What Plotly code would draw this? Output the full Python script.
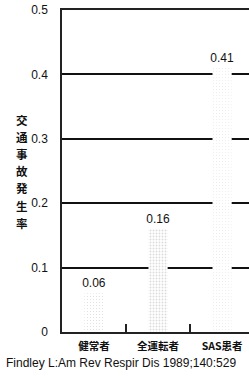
import plotly.graph_objects as go

categories = ["健常者", "全運転者", "SAS患者"]
values = [0.06, 0.16, 0.41]
value_labels = ["0.06", "0.16", "0.41"]
tick_vals = [0, 0.1, 0.2, 0.3, 0.4, 0.5]
tick_text = ["0", "0.1", "0.2", "0.3", "0.4", "0.5"]
y_title = "交通事故発生率"
source = "Findley L:Am Rev Respir Dis 1989;140:529"

NUM_FONT = "Liberation Sans Narrow, Liberation Sans, Arial Narrow, sans-serif"
CJK_FONT = "Noto Sans CJK JP, Noto Sans CJK SC, sans-serif"

W, H = 249, 376
ML, MT, MB = 62, 10, 44
PH = H - MT - MB

fig = go.Figure()
fig.add_trace(go.Bar(
    x=categories,
    y=values,
    width=0.3,
    marker=dict(
        color="white",
        line=dict(width=0),
        pattern=dict(shape=".", fgcolor="#b8b8b8", bgcolor="white",
                     size=3, solidity=[0.12, 0.3, 0.06]),
    ),
    text=value_labels,
    textposition="outside",
    constraintext="none",
    cliponaxis=False,
    textfont=dict(family=NUM_FONT, size=12, color="#111"),
    showlegend=False,
))

# vertical (stacked, upright) axis title: one character per annotation
title_annots = []
top_px, pitch = 119.5, 17.2
for i, ch in enumerate(y_title):
    ypix = top_px + i * pitch
    title_annots.append(dict(
        text=ch, xref="paper", yref="paper",
        x=(22 - ML) / (W - ML), y=(H - MB - ypix) / PH,
        xanchor="center", yanchor="middle", showarrow=False,
        borderpad=0,
        font=dict(family=CJK_FONT, size=11.5, color="#111", weight="bold"),
    ))

fig.update_layout(
    width=W, height=H,
    margin=dict(l=ML, r=0, t=MT, b=MB, autoexpand=False),
    paper_bgcolor="white", plot_bgcolor="white",
    xaxis=dict(
        range=[-0.5, 2.42],
        automargin=False,
        showgrid=False,
        showline=True, linecolor="#222", linewidth=1.5, mirror=True,
        ticks="inside", tickson="boundaries", ticklen=8, tickwidth=1.5, tickcolor="#222",
        ticklabelstandoff=4,
        tickfont=dict(family=CJK_FONT, size=10.5, color="#111", weight="bold"),
        fixedrange=True,
    ),
    yaxis=dict(
        range=[0, 0.5],
        automargin=False,
        tickvals=tick_vals, ticktext=tick_text,
        showgrid=True, gridcolor="#111", gridwidth=2.4,
        zeroline=False,
        showline=True, linecolor="#222", linewidth=1.5,
        ticks="", ticklabelstandoff=10,
        tickfont=dict(family=NUM_FONT, size=12, color="#111"),
        fixedrange=True,
    ),
    annotations=title_annots + [
        dict(text=source, xref="paper", yref="paper",
             x=-0.31, y=-0.096, xanchor="left", yanchor="middle",
             showarrow=False,
             font=dict(family=NUM_FONT, size=12, color="#111")),
    ],
)

fig.write_html(
    "out.html",
    config={"displayModeBar": False},
    post_script="document.body.style.margin='0';document.body.style.padding='0';",
)
